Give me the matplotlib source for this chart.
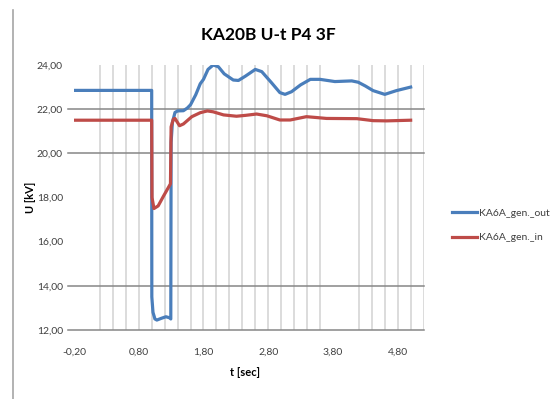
import matplotlib
matplotlib.use("Agg")
import matplotlib.pyplot as plt
from matplotlib.lines import Line2D

# data: time [s], voltage [kV]
t_out = [-0.2, 1.0, 1.002, 1.02, 1.05, 1.08, 1.15, 1.22, 1.28, 1.295,
         1.30, 1.32, 1.36, 1.40, 1.49, 1.55, 1.60, 1.68, 1.75, 1.80,
         1.87, 1.95, 2.03, 2.12, 2.26, 2.34, 2.45, 2.60, 2.70, 2.85,
         2.98, 3.06, 3.16, 3.30, 3.45, 3.60, 3.83, 4.09, 4.19, 4.30,
         4.42, 4.60, 4.78, 5.0]
u_out = [22.85, 22.85, 13.5, 12.8, 12.5, 12.45, 12.53, 12.6, 12.55, 12.5,
         20.5, 21.4, 21.85, 21.92, 21.93, 22.05, 22.2, 22.65, 23.15, 23.35,
         23.8, 24.0, 23.92, 23.6, 23.32, 23.3, 23.5, 23.8, 23.7, 23.2,
         22.75, 22.67, 22.79, 23.1, 23.35, 23.35, 23.25, 23.28, 23.22, 23.05,
         22.84, 22.67, 22.84, 23.0]

t_in = [-0.2, 1.0, 1.005, 1.035, 1.10, 1.18, 1.29, 1.30, 1.335, 1.36,
        1.43, 1.49, 1.62, 1.75, 1.86, 1.95, 2.11, 2.31, 2.45, 2.62,
        2.78, 2.98, 3.14, 3.39, 3.55, 3.70, 4.17, 4.42, 4.63, 5.0]
u_in = [21.5, 21.5, 18.0, 17.5, 17.62, 18.05, 18.62, 21.2, 21.55, 21.58,
        21.25, 21.33, 21.66, 21.84, 21.92, 21.88, 21.74, 21.68, 21.72, 21.78,
        21.70, 21.51, 21.51, 21.66, 21.62, 21.58, 21.57, 21.48, 21.47, 21.5]

xticks = [-0.2, 0.8, 1.8, 2.8, 3.8, 4.8]
yticks = [12, 14, 16, 18, 20, 22, 24]
labels = ["KA6A_gen._out", "KA6A_gen._in"]

fam = ["Lato", "DejaVu Sans"]

W, H = 559, 399
fig = plt.figure(figsize=(W / 100, H / 100), dpi=100)
ax = fig.add_axes([74 / W, 1 - 330 / H, 349.6 / W, 265 / H])

ax.set_xlim(-0.2, 5.2)
ax.set_ylim(12, 24)

# light vertical grid every 0.2 s (some lines lost in the original image)
for k in range(2, 28):
    if k in (20, 21):
        continue
    ax.axvline(-0.2 + 0.2 * k, color="#d9d9d9", lw=1.3, zorder=1)

# dark horizontal grid, with small outside tick
for yv in [12, 14, 20, 22]:
    ax.plot([-0.018, 1], [yv, yv], transform=ax.get_yaxis_transform(),
            color="#868686", lw=1.1, clip_on=False, zorder=2)

ax.plot(t_out, u_out, color="#4A7EBB", lw=2.3, label=labels[0], zorder=3)
ax.plot(t_in, u_in, color="#BE4B48", lw=2.3, label=labels[1], zorder=4)

for s in ax.spines.values():
    s.set_visible(False)

ax.set_xticks(xticks)
ax.set_xticklabels([f"{v:.2f}".replace(".", ",") for v in xticks])
ax.set_yticks(yticks)
ax.set_yticklabels([f"{v:.2f}".replace(".", ",") for v in yticks])
ax.tick_params(axis="x", length=0, pad=13, labelsize=7.5, labelcolor="#404040")
ax.tick_params(axis="y", length=0, pad=8, labelsize=7.5, labelcolor="#404040")
for lab in ax.get_xticklabels() + ax.get_yticklabels():
    lab.set_family(fam)

fig.text(268 / W, 1 - 35 / H, "KA20B U-t P4 3F", ha="center", va="center",
         fontsize=12.5, fontweight="bold", family=fam)
fig.text(31 / W, 1 - 197 / H, "U [kV]", rotation=90, ha="center", va="center",
         fontsize=8, fontweight="bold", family=fam)
fig.text(245 / W, 1 - 373 / H, "t [sec]", ha="center", va="center",
         fontsize=8, fontweight="bold", family=fam)

leg = fig.legend(loc="center left", bbox_to_anchor=(452 / W, 1 - 225.5 / H),
                 frameon=False, borderpad=0, borderaxespad=0,
                 handlelength=2.4, handletextpad=0.15, labelspacing=1.45,
                 prop={"family": fam, "size": 7.5})
for txt in leg.get_texts():
    txt.set_color("#404040")

# left border of the chart area
fig.add_artist(Line2D([13 / W, 13 / W], [0, 1 - 10 / H], color="#a6a6a6", lw=1.2))

fig.savefig("out.png", dpi=100)
